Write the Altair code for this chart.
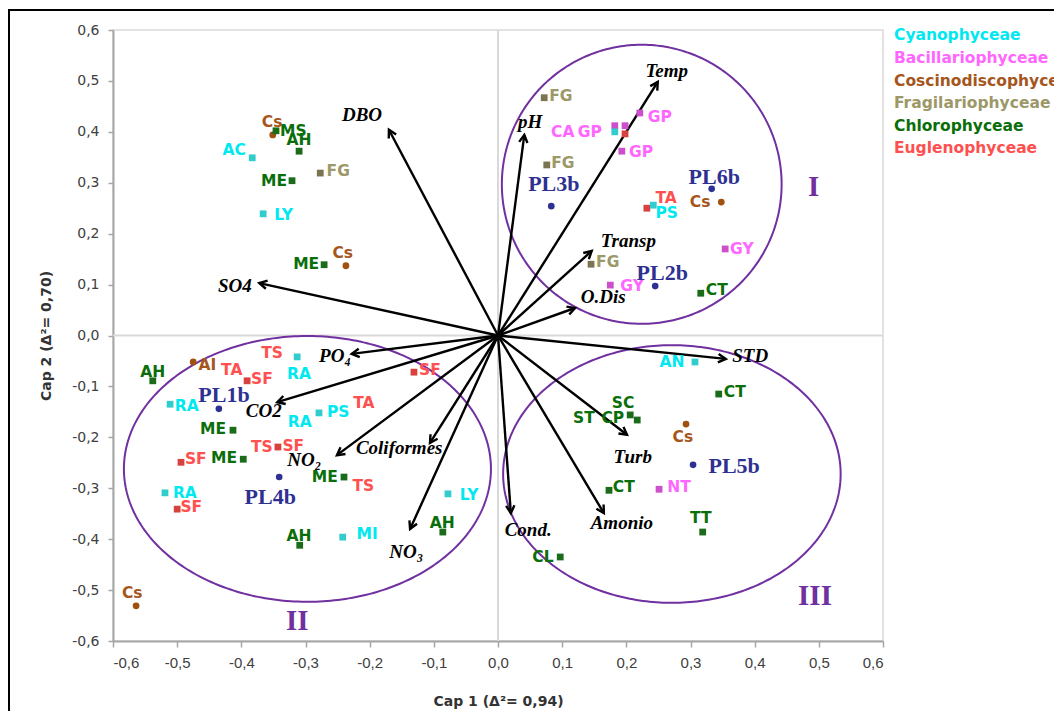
import altair as alt
import pandas as pd

# ---------------- data ----------------
groups = ["Cyanophyceae", "Bacillariophyceae", "Coscinodiscophyceae",
          "Fragilariophyceae", "Chlorophyceae", "Euglenophyceae"]
text_colors = ["#00E8F0", "#FF66FF", "#A5561C", "#9C9868", "#0A6E0A", "#FF5050"]
marker_colors = ["#33CCCC", "#CC4FCC", "#A0500F", "#7A7450", "#1A6B1A", "#D94040"]
marker_shapes = ["square", "square", "circle", "square", "square", "square"]

code = {"C": groups[0], "B": groups[1], "K": groups[2],
        "F": groups[3], "G": groups[4], "E": groups[5]}

# species (label, class code, marker position, label position); None = no visible marker
sp_name = ["Cs", "MS", "AH", "AC", "ME", "FG", "LY", "ME", "Cs",
           "FG", "FG", "CA", "GP", "", "", "GP", "GP", "TA", "PS", "Cs", "GY", "FG", "GY", "CT",
           "AH", "AI", "TA", "SF", "TS", "RA", "RA", "ME", "PS", "RA", "TA", "SF", "TS", "SF",
           "SF", "ME", "ME", "TS", "RA", "SF", "LY", "AH", "AH", "MI", "Cs",
           "AN", "CT", "SC", "ST", "CP", "Cs", "CT", "NT", "TT", "CL"]
sp_class = ["K", "G", "G", "C", "G", "F", "C", "G", "K",
            "F", "F", "B", "B", "C", "E", "B", "B", "E", "C", "K", "B", "F", "B", "G",
            "G", "K", "E", "E", "E", "C", "C", "G", "C", "C", "E", "E", "E", "E",
            "E", "G", "G", "E", "C", "E", "C", "G", "G", "C", "K",
            "C", "G", "G", "G", "G", "K", "G", "B", "G", "G"]
sp_x = [-0.351, -0.346, -0.310, -0.383, -0.321, -0.277, -0.366, -0.271, -0.237,
        0.072, 0.076, 0.182, 0.198, 0.182, 0.198, 0.221, 0.193, 0.232, 0.242, 0.348, 0.354, 0.145, 0.175, 0.316,
        -0.538, -0.475, None, -0.391, None, -0.313, -0.511, -0.413, -0.279, None, None, -0.131, None, -0.343,
        -0.494, -0.397, -0.240, None, -0.519, -0.500, -0.078, -0.086, -0.309, -0.242, -0.564,
        0.307, 0.344, 0.206, None, 0.217, 0.293, 0.173, 0.251, 0.319, 0.097]
sp_y = [0.394, 0.402, 0.362, 0.349, 0.304, 0.319, 0.239, 0.139, 0.137,
        0.467, 0.335, 0.412, 0.412, 0.400, 0.396, 0.437, 0.362, 0.250, 0.256, 0.262, 0.170, 0.140, 0.099, 0.083,
        -0.089, -0.052, None, -0.089, None, -0.042, -0.135, -0.186, -0.152, None, None, -0.072, None, -0.219,
        -0.249, -0.243, -0.278, None, -0.309, -0.341, -0.311, -0.386, -0.412, -0.396, -0.531,
        -0.052, -0.115, -0.156, None, -0.166, -0.174, -0.304, -0.302, -0.386, -0.435]
sp_lx = [-0.352, -0.319, -0.310, -0.411, -0.349, -0.249, -0.334, -0.299, -0.242,
         0.098, 0.101, 0.101, 0.143, 0.182, 0.198, 0.252, 0.223, 0.262, 0.263, 0.315, 0.380, 0.171, 0.209, 0.341,
         -0.538, -0.453, -0.415, -0.368, -0.352, -0.310, -0.485, -0.444, -0.249, -0.309, -0.209, -0.106, -0.368, -0.319,
         -0.471, -0.427, -0.270, -0.210, -0.488, -0.478, -0.045, -0.087, -0.310, -0.204, -0.570,
         0.271, 0.369, 0.195, 0.134, 0.179, 0.288, 0.196, 0.282, 0.316, 0.070]
sp_ly = [0.419, 0.402, 0.384, 0.364, 0.304, 0.323, 0.237, 0.140, 0.162,
         0.470, 0.339, 0.400, 0.400, 0.400, 0.396, 0.429, 0.360, 0.270, 0.241, 0.262, 0.170, 0.144, 0.097, 0.089,
         -0.072, -0.058, -0.068, -0.085, -0.034, -0.076, -0.139, -0.184, -0.150, -0.170, -0.133, -0.068, -0.219, -0.217,
         -0.243, -0.241, -0.278, -0.296, -0.309, -0.337, -0.313, -0.368, -0.394, -0.390, -0.506,
         -0.052, -0.111, -0.133, -0.162, -0.162, -0.199, -0.298, -0.298, -0.359, -0.435]

# sampling sites
site_name = ["PL1b", "PL2b", "PL3b", "PL4b", "PL5b", "PL6b"]
site_x = [-0.435, 0.245, 0.083, -0.341, 0.304, 0.333]
site_y = [-0.144, 0.097, 0.254, -0.278, -0.254, 0.288]
site_lx = [-0.427, 0.256, 0.087, -0.355, 0.368, 0.337]
site_ly = [-0.117, 0.123, 0.297, -0.317, -0.256, 0.311]

# environmental vectors
vec_name = ["DBO", "SO4", "pH", "Temp", "Transp", "O.Dis", "STD", "Turb", "Amonio",
            "Cond.", "PO\u2084", "CO2", "NO\u2082", "Coliformes", "NO\u2083"]
vec_x = [-0.170, -0.372, 0.041, 0.249, 0.146, 0.120, 0.355, 0.201, 0.165,
         0.020, -0.228, -0.344, -0.251, -0.106, -0.137]
vec_y = [0.404, 0.103, 0.394, 0.498, 0.166, 0.054, -0.046, -0.195, -0.349,
         -0.349, -0.036, -0.131, -0.235, -0.211, -0.380]
vec_lx = [-0.212, -0.410, 0.050, 0.263, 0.203, 0.164, 0.393, 0.210, 0.193,
          0.047, -0.254, -0.365, -0.302, -0.154, -0.143]
vec_ly = [0.433, 0.097, 0.419, 0.520, 0.186, 0.076, -0.040, -0.239, -0.368,
          -0.382, -0.040, -0.148, -0.245, -0.221, -0.425]

# groups (ellipses)
ell_name = ["I", "II", "III"]
ell_cx = [0.224, -0.297, 0.271]
ell_cy = [0.297, -0.262, -0.272]
ell_rx = [0.218, 0.286, 0.263]
ell_ry = [0.274, 0.261, 0.253]
ell_lx = [0.492, -0.313, 0.494]
ell_ly = [0.291, -0.561, -0.512]

ticks = [-0.6, -0.5, -0.4, -0.3, -0.2, -0.1, 0.0, 0.1, 0.2, 0.3, 0.4, 0.5, 0.6]
zero = [0.0]

# ---------------- frames ----------------
sp = pd.DataFrame({"name": sp_name, "grp": [code[c] for c in sp_class],
                   "x": sp_x, "y": sp_y, "lx": sp_lx, "ly": sp_ly})
sp_pts = sp.dropna(subset=["x"])
sp_lbl = sp[sp["name"] != ""]
site = pd.DataFrame({"name": site_name, "x": site_x, "y": site_y, "lx": site_lx, "ly": site_ly})
vec = pd.DataFrame({"name": vec_name, "x": vec_x, "y": vec_y, "lx": vec_lx, "ly": vec_ly})
ell = pd.DataFrame({"name": ell_name, "lx": ell_lx, "ly": ell_ly})
zdf = pd.DataFrame({"z": zero})

W, H = 770, 611
KX, KY = W / 1.2, H / 1.2

LBL = "replace(replace(format(datum.value, '.1f'), '.', ','), '\u2212', '-')"
xs = alt.Scale(domain=[-0.6, 0.6], nice=False, zero=False)
ys = alt.Scale(domain=[-0.6, 0.6], nice=False, zero=False)
xaxis = alt.Axis(title="Cap 1 (\u0394\u00b2= 0,94)", values=ticks, labelExpr=LBL, grid=False,
                 domainColor="#A6A6A6", domainWidth=2, tickColor="#A6A6A6", tickWidth=1.5,
                 tickSize=6, labelFont="Liberation Sans", labelFontSize=15, labelColor="#404040",
                 labelPadding=8, titleFont="DejaVu Sans", titleFontSize=14, titleFontWeight="bold",
                 titleColor="#333333", titlePadding=24)
yaxis = alt.Axis(title="Cap 2 (\u0394\u00b2= 0,70)", values=ticks, labelExpr=LBL, grid=False,
                 domainColor="#A6A6A6", domainWidth=2, tickColor="#A6A6A6", tickWidth=1.5,
                 tickSize=5, labelFont="DejaVu Sans", labelFontSize=14, labelColor="#404040",
                 labelPadding=9, titleFont="DejaVu Sans", titleFontSize=14, titleFontWeight="bold",
                 titleColor="#333333", titlePadding=18)


def X(f):
    return alt.X(f, type="quantitative", scale=xs, axis=xaxis)


def Y(f):
    return alt.Y(f, type="quantitative", scale=ys, axis=yaxis)


layers = []

# zero lines
layers.append(alt.Chart(zdf).mark_rule(color="#D9D9D9", strokeWidth=2).encode(x=X("z")))
layers.append(alt.Chart(zdf).mark_rule(color="#D9D9D9", strokeWidth=2).encode(y=Y("z")))

# ellipses
for i in range(len(ell_name)):
    layers.append(
        alt.Chart(alt.sequence(0, 6.33, 0.02, as_="t"))
        .transform_calculate(ex=f"{ell_cx[i]} + {ell_rx[i]} * cos(datum.t)",
                             ey=f"{ell_cy[i]} + {ell_ry[i]} * sin(datum.t)")
        .mark_line(color="#7030A0", strokeWidth=2)
        .encode(x=X("ex"), y=Y("ey"), order=alt.Order("t:Q"))
    )

# vectors
layers.append(
    alt.Chart(vec).transform_calculate(x0="0", y0="0")
    .mark_rule(color="black", strokeWidth=2.4)
    .encode(x=X("x0"), y=Y("y0"), x2="x:Q", y2="y:Q")
)
layers.append(
    alt.Chart(vec)
    .transform_calculate(ang=f"(atan2(datum.x * {KX}, datum.y * {KY}) * 180 / PI + 360) % 360")
    .mark_point(shape="M-0.55,1L0,0L0.55,1", filled=False, stroke="black", strokeWidth=2.4,
                size=230, opacity=1, strokeJoin="miter")
    .encode(x=X("x"), y=Y("y"), angle=alt.Angle("ang:Q", scale=None))
)
layers.append(
    alt.Chart(vec).mark_text(font="Liberation Serif", fontStyle="italic", fontWeight="bold",
                             fontSize=19, color="black", align="center", baseline="middle")
    .encode(x=X("lx"), y=Y("ly"), text="name:N")
)

# species markers
layers.append(
    alt.Chart(sp_pts).mark_point(filled=True, size=46, opacity=1)
    .encode(x=X("x"), y=Y("y"),
            color=alt.Color("grp:N", scale=alt.Scale(domain=groups, range=marker_colors), legend=None),
            shape=alt.Shape("grp:N", scale=alt.Scale(domain=groups, range=marker_shapes), legend=None))
)
# site markers
layers.append(
    alt.Chart(site).mark_point(filled=True, size=44, opacity=1, shape="circle", color="#2E3192")
    .encode(x=X("x"), y=Y("y"))
)
# species labels
layers.append(
    alt.Chart(sp_lbl).mark_text(font="DejaVu Sans", fontWeight="bold", fontSize=15.5,
                                align="center", baseline="middle")
    .encode(x=X("lx"), y=Y("ly"), text="name:N",
            color=alt.Color("grp:N", scale=alt.Scale(domain=groups, range=text_colors), legend=None))
)
# site labels
layers.append(
    alt.Chart(site).mark_text(font="Liberation Serif", fontWeight="bold", fontSize=22,
                              color="#2E3192", align="center", baseline="middle")
    .encode(x=X("lx"), y=Y("ly"), text="name:N")
)
# ellipse labels
layers.append(
    alt.Chart(ell).mark_text(font="Liberation Serif", fontWeight="bold", fontSize=29,
                             color="#7030A0", align="center", baseline="middle")
    .encode(x=X("lx"), y=Y("ly"), text="name:N")
)

# legend (coloured names only)
leg_y = [5, 28, 51, 73, 96, 118]
for i, g in enumerate(groups):
    layers.append(
        alt.Chart(pd.DataFrame({"t": [g]})).mark_text(
            font="DejaVu Sans", fontWeight="bold", fontSize=15.5, align="left", baseline="middle",
            color=text_colors[i])
        .encode(x=alt.value(781), y=alt.value(leg_y[i]), text="t:N")
    )

# outer frame lines (figure border)
one = pd.DataFrame({"a": [0]})
layers.append(alt.Chart(one).mark_rule(color="black", strokeWidth=2)
              .encode(x=alt.value(-105), x2=alt.value(960), y=alt.value(-20)))
layers.append(alt.Chart(one).mark_rule(color="black", strokeWidth=2)
              .encode(x=alt.value(-104), y=alt.value(-21), y2=alt.value(700)))

chart = (
    alt.layer(*layers)
    .resolve_scale(color="independent", shape="independent")
    .properties(width=W, height=H,
                autosize=alt.AutoSizeParams(type="none"),
                padding={"left": 105, "top": 22, "right": 171, "bottom": 70})
    .configure_view(stroke="#D9D9D9", strokeWidth=1.5)
)

chart.save("out.html", embed_options={"renderer": "svg", "actions": False})
